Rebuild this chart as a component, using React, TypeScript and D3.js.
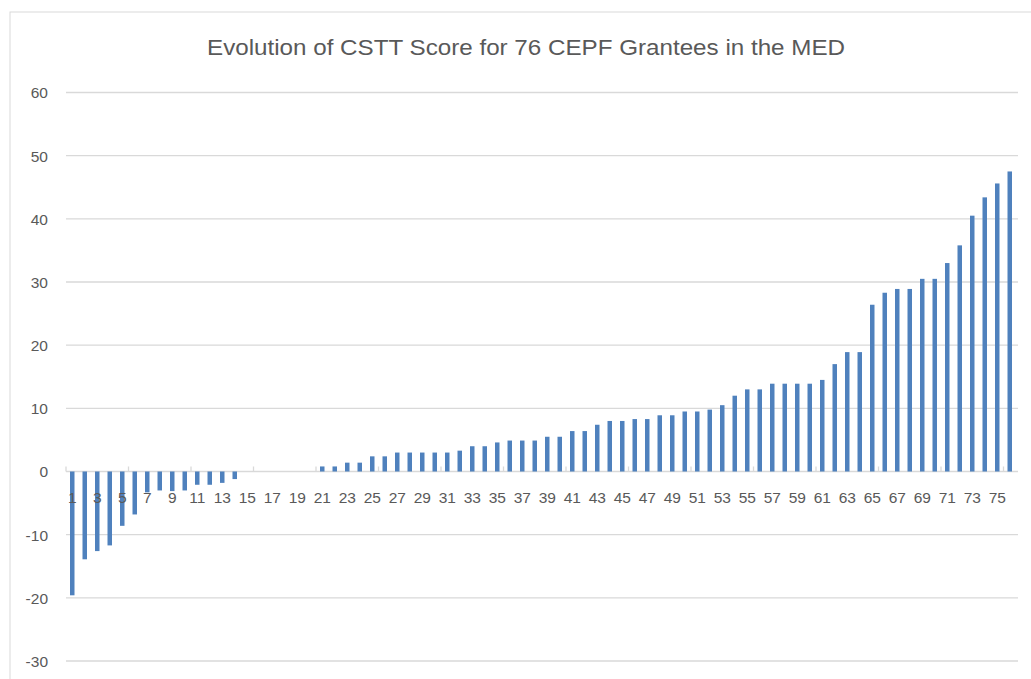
import React from "react";
import * as d3 from "d3";

const titleText = "Evolution of CSTT Score for 76 CEPF Grantees in the MED";

const categories: string[] = Array.from({ length: 76 }, (_, i) => String(i + 1));

const scores: number[] = [
  -19.6, -13.9, -12.6, -11.7, -8.6, -6.8, -3.3, -3.0, -3.1, -3.0,
  -2.1, -2.1, -1.8, -1.2, 0, 0, 0, 0, 0, 0,
  0.8, 0.8, 1.4, 1.4, 2.4, 2.4, 3.0, 3.0, 3.0, 3.0,
  3.0, 3.3, 4.0, 4.0, 4.6, 4.9, 4.9, 4.9, 5.5, 5.5,
  6.4, 6.4, 7.4, 8.0, 8.0, 8.3, 8.3, 8.9, 8.9, 9.5,
  9.5, 9.8, 10.5, 12.0, 13.0, 13.0, 13.9, 13.9, 13.9, 13.9,
  14.5, 17.0, 18.9, 18.9, 26.4, 28.3, 28.9, 28.9, 30.5, 30.5,
  33.0, 35.8, 40.5, 43.4, 45.6, 47.5,
];

const yTicks: number[] = [-30, -20, -10, 0, 10, 20, 30, 40, 50, 60];

const W = 1031;
const H = 679;
const left = 66;
const right = 1016;
const top = 92.5;
const bottom = 661;

export default function App() {
  const x = d3.scaleBand<string>().domain(categories).range([left, right]).paddingInner(0.64).paddingOuter(0.32);
  const xb = d3.scaleBand<string>().domain(categories).range([left, right]).padding(0);
  const y = d3.scaleLinear().domain([-30, 60]).range([bottom, top]);
  const y0 = y(0);
  const font = "'Liberation Sans', Arial, sans-serif";
  const tickIdx = categories.map((_, i) => i).filter((i) => i % 5 === 0);
  const labelCats = categories.filter((_, i) => i % 2 === 0);

  return (
    <svg width={W} height={H} style={{ position: "absolute", left: 0, top: 0, background: "#fff" }}>
      <rect x={10} y={12} width={W + 20} height={H + 20} fill="#fff" stroke="#D9D9D9" strokeWidth={1} />
      <text
        x={526}
        y={55}
        textAnchor="middle"
        fontFamily={font}
        fontSize={21.5}
        fill="#595959"
        textLength={638}
        lengthAdjust="spacingAndGlyphs"
      >
        {titleText}
      </text>
      {yTicks.map((t) => (
        <g key={t}>
          <line x1={left} x2={right + 2} y1={y(t)} y2={y(t)} stroke="#D9D9D9" strokeWidth={1.3} />
          <text
            x={48}
            y={y(t)}
            dy="0.38em"
            textAnchor="end"
            fontFamily={font}
            fontSize={15.5}
            fill="#595959"
          >
            {t}
          </text>
        </g>
      ))}
      {tickIdx.map((i) => {
        const xp = xb(categories[i]) as number;
        return <line key={i} x1={xp} x2={xp} y1={y0 - 5} y2={y0} stroke="#D9D9D9" strokeWidth={1.3} />;
      })}
      {scores.map((v, i) => {
        const c = categories[i];
        return (
          <rect
            key={c}
            x={x(c)}
            width={x.bandwidth()}
            y={Math.min(y(v), y0)}
            height={Math.abs(y(v) - y0)}
            fill="#4F81BD"
          />
        );
      })}
      {labelCats.map((c) => (
        <text
          key={c}
          x={(xb(c) as number) + xb.bandwidth() / 2}
          y={502.5}
          textAnchor="middle"
          fontFamily={font}
          fontSize={15.5}
          fill="#595959"
        >
          {c}
        </text>
      ))}
    </svg>
  );
}
